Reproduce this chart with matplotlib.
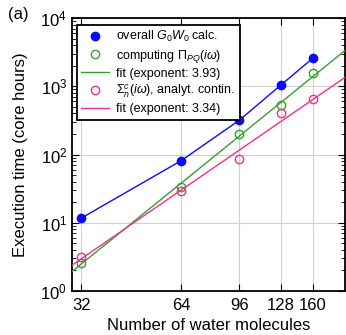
import numpy as np
import matplotlib
matplotlib.use('Agg')
import matplotlib.pyplot as plt
from matplotlib.ticker import FixedLocator, FixedFormatter, NullFormatter, LogLocator

plt.rcParams['font.family'] = ['Liberation Sans', 'DejaVu Sans']
plt.rcParams['mathtext.fontset'] = 'custom'
plt.rcParams['mathtext.rm'] = 'Liberation Sans'
plt.rcParams['mathtext.it'] = 'Liberation Sans:italic'

# data
n_water = [32, 64, 96, 128, 160]
t_overall = [11.7, 81, 318, 1040, 2580]
t_pi = [2.6, 33.6, 197, 528, 1550]
t_sigma = [3.1, 29, 85, 404, 650]
exp_pi = 3.93
exp_sigma = 3.34
xticks = [32, 64, 96, 128, 160]

blue = '#0a0aff'
green = '#34a02c'
pink = '#f0308f'


def fit_line(x, y, p, xs):
    # prefactor for a fixed exponent, least squares in log space
    lx, ly = np.log(x), np.log(y)
    loga = np.mean(ly - p * lx)
    return np.exp(loga) * xs ** p


fig = plt.figure(figsize=(3.46, 3.35), dpi=100)
ax = fig.add_axes([72 / 346, 1 - 291 / 335, 273 / 346, 273 / 335])

xs = np.array([30.0, 200.0])
x = np.array(n_water, float)

ax.plot(x, t_overall, '-', color=blue, lw=1.0, zorder=3)
ax.plot(x, t_overall, 'o', color=blue, ms=6, zorder=4, label=r'overall $G_0W_0$ calc.')
ax.plot(x, t_pi, 'o', mfc='none', mec=green, mew=1.0, ms=6, zorder=4,
        label=r'computing $\Pi_{PQ}(i\omega)$')
ax.plot(xs, fit_line(x, t_pi, exp_pi, xs), '-', color=green, lw=1.0, zorder=3,
        label=f'fit (exponent: {exp_pi:.2f})')
ax.plot(x, t_sigma, 'o', mfc='none', mec=pink, mew=1.0, ms=6, zorder=4,
        label=r'$\Sigma^c_n(i\omega)$, analyt. contin.')
ax.plot(xs, fit_line(x, t_sigma, exp_sigma, xs), '-', color=pink, lw=1.0, zorder=3,
        label=f'fit (exponent: {exp_sigma:.2f})')

ax.set_xscale('log')
ax.set_yscale('log')
ax.set_xlim(30, 200)
ax.set_ylim(1, 1e4)
ax.xaxis.set_major_locator(FixedLocator(xticks))
ax.xaxis.set_minor_locator(FixedLocator([]))
ax.xaxis.set_major_formatter(FixedFormatter([str(v) for v in xticks]))
ax.xaxis.set_minor_formatter(NullFormatter())
ax.yaxis.set_major_locator(LogLocator(base=10, numticks=10))
ax.yaxis.set_minor_locator(LogLocator(base=10, subs=np.arange(2, 10), numticks=10))

ax.grid(True, which='major', color='#d0d0d0', lw=0.8, zorder=0)
ax.tick_params(which='both', direction='in', top=True, right=True, labelsize=12)
ax.tick_params(which='major', length=5)
ax.tick_params(which='minor', length=3)
ax.tick_params(axis='x', pad=5)
for s in ax.spines.values():
    s.set_linewidth(1.3)

ax.set_xlabel('Number of water molecules', fontsize=12, labelpad=4)
ax.set_ylabel('Execution time (core hours)', fontsize=12, labelpad=9)

leg = ax.legend(loc='upper left', bbox_to_anchor=(5 / 273, 1 - 7 / 273),
                borderaxespad=0, fontsize=9, frameon=True, fancybox=False,
                edgecolor='black', framealpha=1, handlelength=2.2,
                handletextpad=0.6, labelspacing=0.25, borderpad=0.35)
leg.get_frame().set_linewidth(1.3)

fig.text(8 / 346, 1 - 14 / 335, '(a)', fontsize=12, va='center', ha='left')

fig.savefig('out.png', dpi=100)
